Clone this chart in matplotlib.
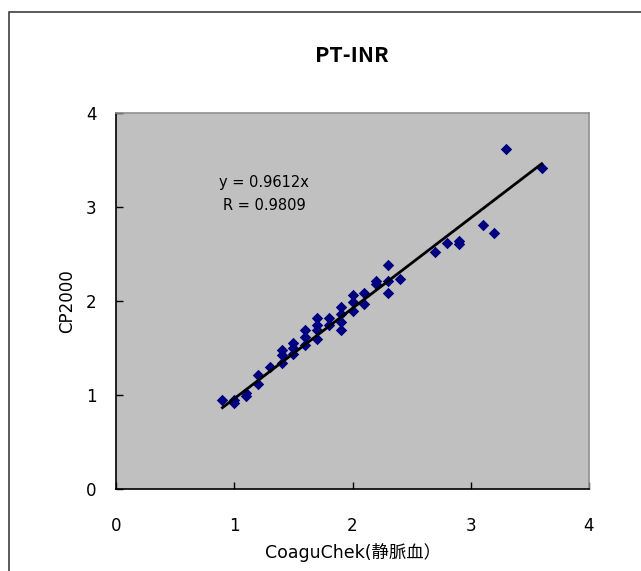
import matplotlib
matplotlib.use("Agg")
import matplotlib.pyplot as plt
from matplotlib.patches import Rectangle
import numpy as np

plt.rcParams['font.family'] = ['DejaVu Sans', 'Noto Sans CJK JP']

title = "PT-INR"
xlabel = "CoaguChek(静脈血）"
ylabel = "CP2000"
slope = 0.9612
r_value = 0.9809
ticks = [0, 1, 2, 3, 4]

x_vals = [0.9, 1.0, 1.0, 1.1, 1.1, 1.2, 1.2, 1.3, 1.4, 1.4, 1.4, 1.5, 1.5, 1.5,
          1.6, 1.6, 1.6, 1.7, 1.7, 1.7, 1.7, 1.8, 1.8, 1.9, 1.9, 1.9, 1.9,
          2.0, 2.0, 2.0, 2.1, 2.1, 2.2, 2.2, 2.3, 2.3, 2.3, 2.4, 2.7, 2.8,
          2.9, 2.9, 3.1, 3.2, 3.3, 3.6]
y_vals = [0.95, 0.95, 0.91, 1.02, 0.99, 1.21, 1.12, 1.30, 1.48, 1.43, 1.34,
          1.55, 1.50, 1.44, 1.69, 1.62, 1.53, 1.82, 1.74, 1.69, 1.60, 1.82,
          1.74, 1.94, 1.86, 1.78, 1.69, 2.06, 1.99, 1.89, 2.09, 1.97, 2.21,
          2.18, 2.38, 2.21, 2.08, 2.23, 2.52, 2.62, 2.64, 2.61, 2.81, 2.72,
          3.62, 3.42]

W, H = 641, 571
fig = plt.figure(figsize=(W / 100, H / 100), dpi=100)
fig.patch.set_facecolor('white')

# outer chart frame (cropped on right/bottom)
fig.patches.append(Rectangle((9 / W, -0.05), 1.1, (H - 12) / H + 0.05,
                             transform=fig.transFigure, fill=False,
                             edgecolor='#404040', linewidth=1.2))

left, right, top, bottom = 116, 589, 113, 489
ax = fig.add_axes([left / W, 1 - bottom / H, (right - left) / W, (bottom - top) / H])
ax.set_facecolor('#C0C0C0')
ax.set_xlim(0, 4)
ax.set_ylim(0, 4)

ax.scatter(x_vals, y_vals, marker='D', s=34, color='#000080', zorder=3, linewidths=0)

xl = np.array([min(x_vals), max(x_vals)])
ax.plot(xl, slope * xl, color='black', linewidth=2, zorder=4)

ax.text(0.313, 0.816, f"y = {slope}x", transform=ax.transAxes, ha='center',
        va='center', fontsize=10.5)
ax.text(0.313, 0.753, f"R = {r_value}", transform=ax.transAxes, ha='center',
        va='center', fontsize=10.5)

ax.set_xticks(ticks)
ax.set_yticks(ticks)
ax.set_xticklabels([str(t) for t in ticks])
ax.set_yticklabels([str(t) for t in ticks])
ax.tick_params(direction='in', length=5, width=1, labelsize=12, colors='black')
ax.tick_params(axis='x', pad=20)
ax.tick_params(axis='y', pad=14)

for s in ['left', 'bottom']:
    ax.spines[s].set_color('black')
    ax.spines[s].set_linewidth(1.2)
for s in ['top', 'right']:
    ax.spines[s].set_color('#909090')
    ax.spines[s].set_linewidth(1.2)

ax.set_xlabel(xlabel, fontsize=12.5, labelpad=6)
ax.set_ylabel(ylabel, fontsize=12)
ax.yaxis.set_label_coords(-0.085, 0.5)

fig.text(352 / W, 1 - 55 / H, title, ha='center', va='center', fontsize=15.5,
         fontweight='bold', family=['Noto Sans CJK JP', 'DejaVu Sans'])

fig.savefig('out.png', dpi=100)
